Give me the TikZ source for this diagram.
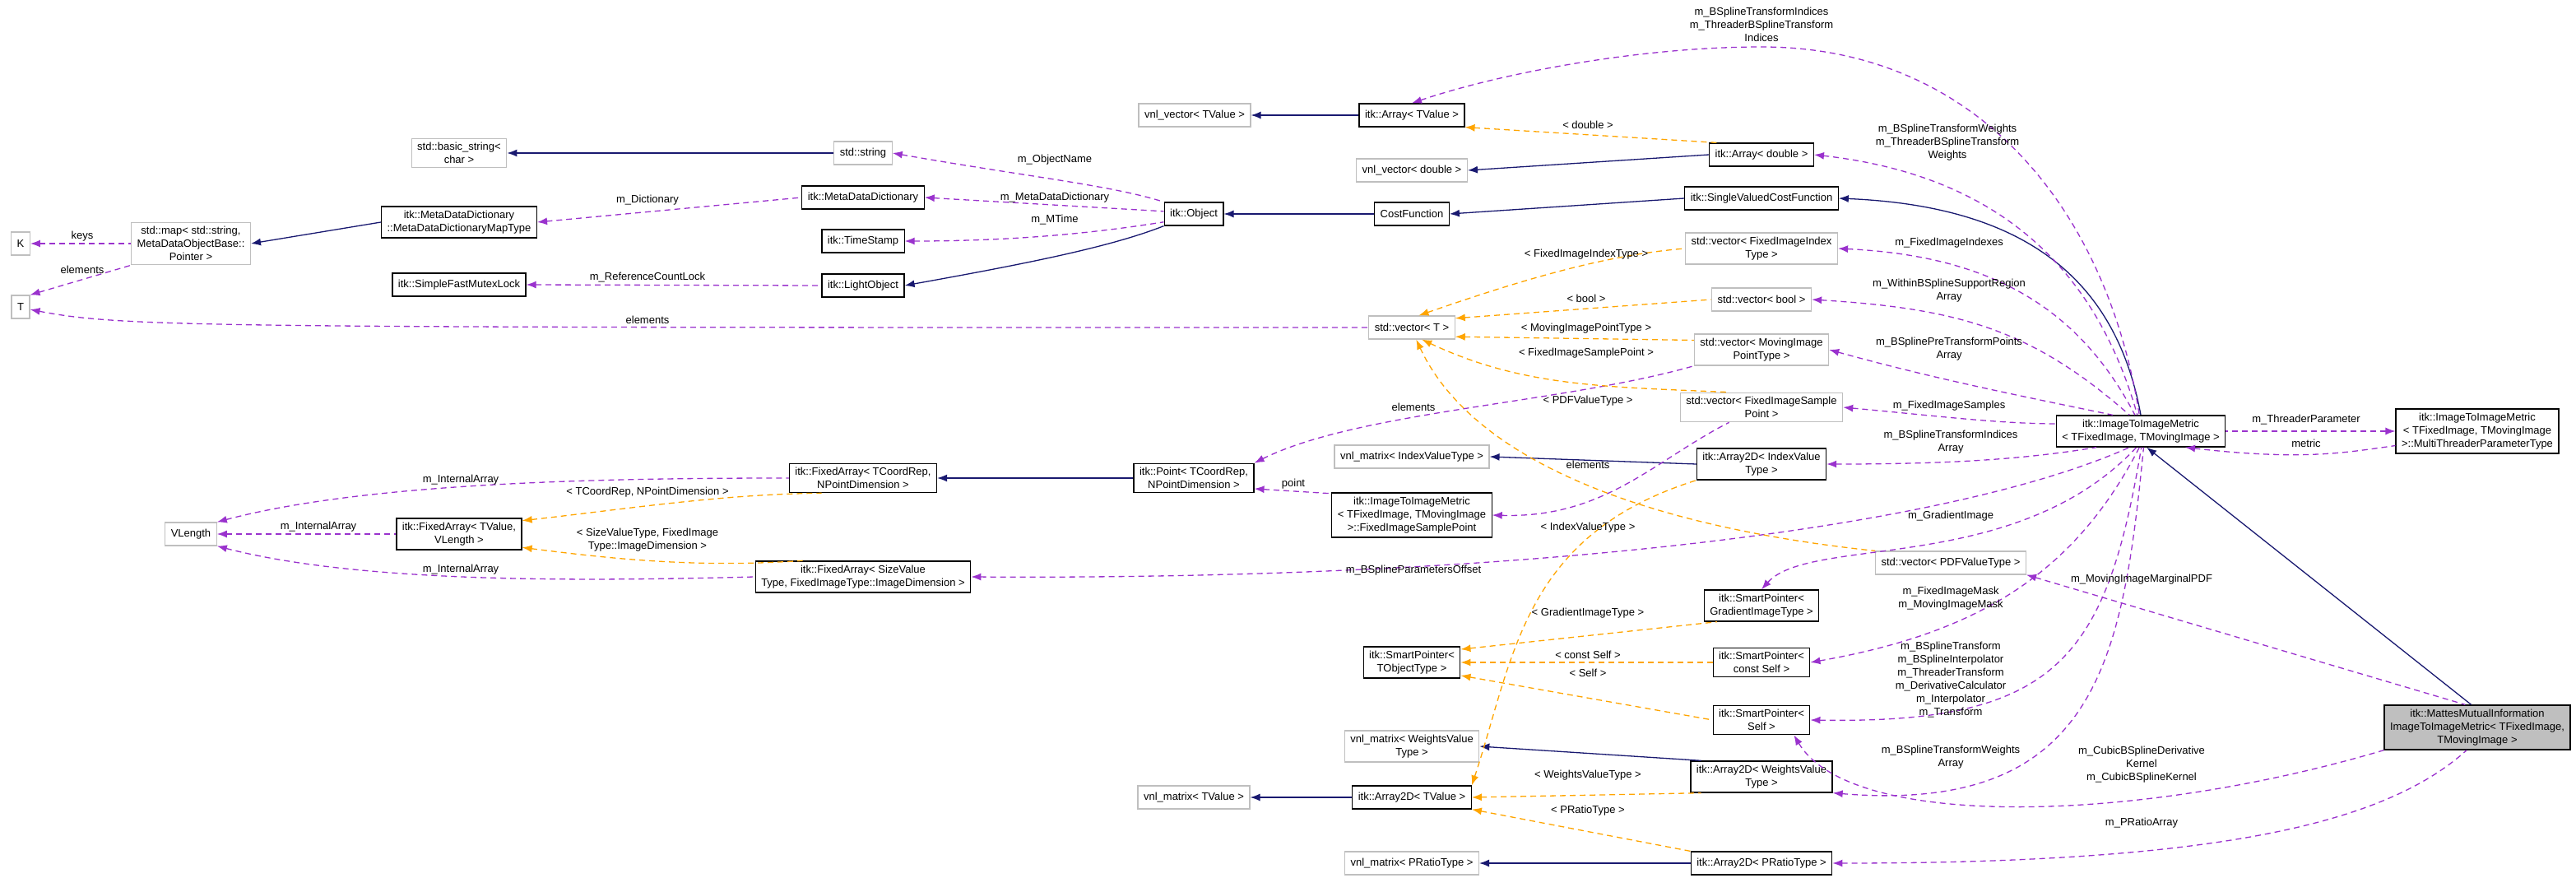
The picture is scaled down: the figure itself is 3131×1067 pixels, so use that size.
\documentclass[tikz,border=0pt]{standalone}
\usepackage{fontspec}
\setmainfont{Liberation Sans}
\usetikzlibrary{arrows.meta}
\definecolor{navy}{HTML}{191970}
\definecolor{purp}{HTML}{9A32CD}
\definecolor{orng}{HTML}{FFA500}
\definecolor{undocgray}{HTML}{BFBFBF}
\begin{document}
\begin{tikzpicture}[x=1pt,y=-1pt,
    every node/.style={font=\fontsize{13}{16}\selectfont},
    doc node/.style={draw=black,line width=1.2pt,align=center,inner xsep=7pt,inner ysep=5pt,minimum height=28pt,fill=white},
    undoc node/.style={doc node,draw=undocgray},
    lbl/.style={inner sep=1pt,align=center},
    inh/.style={draw=navy,line width=1.3pt,{Latex[length=12pt,width=9pt]}-},
    use/.style={draw=purp,line width=1.3pt,dash pattern=on 7pt off 5pt,{Latex[length=12pt,width=9pt]}-},
    tmpl/.style={draw=orng,line width=1.3pt,dash pattern=on 7pt off 5pt,{Latex[length=12pt,width=9pt]}-}]
                \useasboundingbox (0,0) rectangle (3131,1067);
                % left part
                \node[undoc node] at (25,296) (K) {K};
                \node[undoc node] at (25,373) (T) {T};
                \node[undoc node] at (232,296) (smap) {std::map< std::string,\\MetaDataObjectBase::\\Pointer >};
                \node[doc node] at (558,270) (mapType) {itk::MetaDataDictionary\\::MetaDataDictionaryMapType};
                \node[undoc node] at (558,186) (bstring) {std::basic\_string<\\char >};
                \node[doc node] at (558,346) (mutex) {itk::SimpleFastMutexLock};
                \node[undoc node] at (1049,186) (sstring) {std::string};
                \node[doc node] at (1049,240) (mdd) {itk::MetaDataDictionary};
                \node[doc node] at (1049,293) (tstamp) {itk::TimeStamp};
                \node[doc node] at (1049,347) (light) {itk::LightObject};
                \node[doc node] at (1451,260) (object) {itk::Object};
                \node[undoc node] at (232,649) (vlen) {VLength};
                \node[doc node] at (558,649) (faTV) {itk::FixedArray< TValue,\\VLength >};
                \node[doc node] at (1049,581) (faTC) {itk::FixedArray< TCoordRep,\\NPointDimension >};
                \node[doc node] at (1049,701) (faSV) {itk::FixedArray< SizeValue\\Type, FixedImageType::ImageDimension >};
                \node[doc node] at (1451,581) (point) {itk::Point< TCoordRep,\\NPointDimension >};
                \node[undoc node] at (1451,969) (vnlmT) {vnl\_matrix< TValue >};
                % middle part
                \node[undoc node] at (1452,140) (vnlvT) {vnl\_vector< TValue >};
                \node[doc node] at (1716,140) (arrT) {itk::Array< TValue >};
                \node[undoc node] at (1716,207) (vnlvD) {vnl\_vector< double >};
                \node[doc node] at (1716,260) (cost) {CostFunction};
                \node[undoc node] at (1716,398) (vT) {std::vector< T >};
                \node[undoc node] at (1716,555) (vnlmI) {vnl\_matrix< IndexValueType >};
                \node[doc node] at (1716,626) (fisp) {itk::ImageToImageMetric\\< TFixedImage, TMovingImage\\>::FixedImageSamplePoint};
                \node[doc node] at (1716,805) (spT) {itk::SmartPointer<\\TObjectType >};
                \node[undoc node] at (1716,907) (vnlmW) {vnl\_matrix< WeightsValue\\Type >};
                \node[doc node] at (1716,969) (a2dT) {itk::Array2D< TValue >};
                \node[undoc node] at (1716,1049) (vnlmP) {vnl\_matrix< PRatioType >};
                \node[doc node] at (2141,188) (arrD) {itk::Array< double >};
                \node[doc node] at (2141,241) (svcf) {itk::SingleValuedCostFunction};
                \node[undoc node] at (2141,302) (vFII) {std::vector< FixedImageIndex\\Type >};
                \node[undoc node] at (2141,364) (vBool) {std::vector< bool >};
                \node[undoc node] at (2141,425) (vMIP) {std::vector< MovingImage\\PointType >};
                \node[undoc node] at (2141,495) (vFIS) {std::vector< FixedImageSample\\Point >};
                \node[doc node] at (2141,564) (a2dI) {itk::Array2D< IndexValue\\Type >};
                \node[doc node] at (2141,736) (spG) {itk::SmartPointer<\\GradientImageType >};
                \node[doc node] at (2141,805) (spC) {itk::SmartPointer<\\const Self >};
                \node[doc node] at (2141,875) (spS) {itk::SmartPointer<\\Self >};
                \node[doc node] at (2141,944) (a2dW) {itk::Array2D< WeightsValue\\Type >};
                \node[doc node] at (2141,1049) (a2dP) {itk::Array2D< PRatioType >};
                \node[undoc node] at (2371,684) (vPDF) {std::vector< PDFValueType >};
                % right part
                \node[doc node] at (2602,524) (i2im) {itk::ImageToImageMetric\\< TFixedImage, TMovingImage >};
                \node[doc node] at (3011,524) (mtp) {itk::ImageToImageMetric\\< TFixedImage, TMovingImage\\>::MultiThreaderParameterType};
                \node[doc node,fill=undocgray] at (3011,884) (mattes) {itk::MattesMutualInformation\\ImageToImageMetric< TFixedImage,\\TMovingImage >};
                \coordinate (topbend) at (2141,57);

                % inheritance
                \draw[inh] (smap.east) -- (mapType.west);
                \draw[inh] (bstring.east) -- (sstring.west);
                \draw[inh] (vnlvT.east) -- (arrT.west);
                \draw[inh] (vnlvD.east) -- (arrD.west);
                \draw[inh] (object.east) -- (cost.west);
                \draw[inh] (cost.east) -- (svcf.west);
                \draw[inh] (svcf.east) .. controls (2450,250) and (2570,330) .. (i2im.north);
                \draw[inh] (light.east) .. controls (1250,320) and (1350,300) .. (object.south west);
                \draw[inh] (faTC.east) -- (point.west);
                \draw[inh] (vnlmI.east) -- (a2dI.west);
                \draw[inh] (vnlmW.east) -- (a2dW.165);
                \draw[inh] (vnlmT.east) -- (a2dT.west);
                \draw[inh] (vnlmP.east) -- (a2dP.west);
                \draw[inh] (i2im.290) -- (mattes.105);

                % members
                \draw[use] (K.east) -- (smap.west);
                \draw[use] (T.north east) -- (smap.south west);
                \draw[use] (mapType.east) -- (mdd.west);
                \draw[use] (mutex.east) -- (light.west);
                \draw[use] (T.-15) .. controls (150,398) and (250,398) .. (vT.west);
                \draw[use] (sstring.east) .. controls (1250,215) and (1350,225) .. (object.north west);
                \draw[use] (mdd.east) -- (object.175);
                \draw[use] (tstamp.east) .. controls (1250,293) and (1350,280) .. (object.195);
                \draw[use] (arrT.north) .. controls (1820,90) and (1990,57) .. (topbend) .. controls (2400,57) and (2560,250) .. (i2im.95);
                \draw[use] (arrD.east) .. controls (2400,210) and (2540,300) .. (i2im.102);
                \draw[use] (vFII.east) .. controls (2400,310) and (2520,360) .. (i2im.110);
                \draw[use] (vBool.east) .. controls (2380,375) and (2470,400) .. (i2im.125);
                \draw[use] (vMIP.east) .. controls (2350,460) and (2450,480) .. (i2im.150);
                \draw[use] (vFIS.east) .. controls (2350,505) and (2430,515) .. (i2im.175);
                \draw[use] (a2dI.east) .. controls (2350,564) and (2450,560) .. (i2im.200);
                \draw[use] (point.north east) .. controls (1650,500) and (1900,490) .. (vMIP.south west);
                \draw[use] (point.-10) -- (fisp.165);
                \draw[use] (fisp.east) .. controls (1950,630) and (2010,560) .. (vFIS.205);
                \draw[use] (vlen.north east) .. controls (450,585) and (750,581) .. (faTC.west);
                \draw[use] (vlen.east) -- (faTV.west);
                \draw[use] (vlen.south east) .. controls (450,712) and (750,705) .. (faSV.west);
                \draw[use] (faSV.east) .. controls (1800,705) and (2350,650) .. (i2im.235);
                \draw[use] (spG.north) .. controls (2200,650) and (2450,700) .. (i2im.255);
                \draw[use] (spC.east) .. controls (2400,770) and (2520,700) .. (i2im.265);
                \draw[use] (spS.east) .. controls (2500,880) and (2560,800) .. (i2im.272);
                \draw[use] (a2dW.south east) .. controls (2550,990) and (2580,800) .. (i2im.280);
                \draw[use] (mtp.180) -- (i2im.0);
                \draw[use] (i2im.-20) .. controls (2800,560) and (2850,550) .. (mtp.190);
                \draw[use] (vPDF.south east) -- (mattes.118);
                \draw[use] (spS.-25) .. controls (2250,1010) and (2600,1000) .. (mattes.south west);
                \draw[use] (a2dP.east) .. controls (2700,1049) and (2900,1000) .. (mattes.245);

                % template instances
                \draw[tmpl] (arrT.south east) -- (arrD.165);
                \draw[tmpl] (vT.60) .. controls (1850,340) and (1950,310) .. (vFII.west);
                \draw[tmpl] (vT.12) -- (vBool.west);
                \draw[tmpl] (vT.-12) -- (vMIP.172);
                \draw[tmpl] (vT.-50) .. controls (1850,470) and (1950,470) .. (vFIS.155);
                \draw[tmpl] (vT.-70) .. controls (1790,560) and (2000,640) .. (vPDF.north west);
                \draw[tmpl] (faTV.12) .. controls (750,620) and (880,600) .. (faTC.200);
                \draw[tmpl] (faTV.-12) .. controls (750,680) and (850,690) .. (faSV.165);
                \draw[tmpl] (a2dT.north east) .. controls (1840,800) and (1850,650) .. (a2dI.south west);
                \draw[tmpl] (a2dT.east) -- (a2dW.195);
                \draw[tmpl] (a2dT.south east) -- (a2dP.north west);
                \draw[tmpl] (spT.15) -- (spG.200);
                \draw[tmpl] (spT.east) -- (spC.west);
                \draw[tmpl] (spT.-15) -- (spS.west);

                % edge labels
                \node[lbl] at (100,287) (lKeys) {keys};
                \node[lbl] at (100,328) (lElemT) {elements};
                \node[lbl] at (787,243) (lDict) {m\_Dictionary};
                \node[lbl] at (787,337) (lLock) {m\_ReferenceCountLock};
                \node[lbl] at (787,389) (lElemV) {elements};
                \node[lbl] at (1282,194) (lName) {m\_ObjectName};
                \node[lbl] at (1282,240) (lMdd) {m\_MetaDataDictionary};
                \node[lbl] at (1282,267) (lMTime) {m\_MTime};
                \node[lbl] at (560,583) (lIA1) {m\_InternalArray};
                \node[lbl] at (387,640) (lIA2) {m\_InternalArray};
                \node[lbl] at (560,692) (lIA3) {m\_InternalArray};
                \node[lbl] at (787,598) (lTC) {< TCoordRep, NPointDimension >};
                \node[lbl] at (787,656) (lSV) {< SizeValueType, FixedImage\\Type::ImageDimension >};
                \node[lbl] at (1572,588) (lPoint) {point};
                \node[lbl] at (2141,30) (lIdx) {m\_BSplineTransformIndices\\m\_ThreaderBSplineTransform\\Indices};
                \node[lbl] at (1930,152) (lDouble) {< double >};
                \node[lbl] at (1928,309) (lFII) {< FixedImageIndexType >};
                \node[lbl] at (1928,363) (lBool) {< bool >};
                \node[lbl] at (1928,399) (lMIP) {< MovingImagePointType >};
                \node[lbl] at (1928,429) (lFIS) {< FixedImageSamplePoint >};
                \node[lbl] at (1930,487) (lPDF) {< PDFValueType >};
                \node[lbl] at (1718,495) (lElemP) {elements};
                \node[lbl] at (1930,565) (lElemF) {elements};
                \node[lbl] at (1930,641) (lIVT) {< IndexValueType >};
                \node[lbl] at (1718,693) (lOffset) {m\_BSplineParametersOffset};
                \node[lbl] at (1930,745) (lGIT) {< GradientImageType >};
                \node[lbl] at (1930,796) (lCS) {< const Self >};
                \node[lbl] at (1930,818) (lS) {< Self >};
                \node[lbl] at (1930,942) (lWVT) {< WeightsValueType >};
                \node[lbl] at (1930,985) (lPRT) {< PRatioType >};
                \node[lbl] at (2367,173) (lW) {m\_BSplineTransformWeights\\m\_ThreaderBSplineTransform\\Weights};
                \node[lbl] at (2369,295) (lFIIx) {m\_FixedImageIndexes};
                \node[lbl] at (2369,353) (lWithin) {m\_WithinBSplineSupportRegion\\Array};
                \node[lbl] at (2369,424) (lPre) {m\_BSplinePreTransformPoints\\Array};
                \node[lbl] at (2369,493) (lSamples) {m\_FixedImageSamples};
                \node[lbl] at (2371,537) (lIdxArr) {m\_BSplineTransformIndices\\Array};
                \node[lbl] at (2371,627) (lGrad) {m\_GradientImage};
                \node[lbl] at (2371,727) (lMask) {m\_FixedImageMask\\m\_MovingImageMask};
                \node[lbl] at (2371,826) (lTrans) {m\_BSplineTransform\\m\_BSplineInterpolator\\m\_ThreaderTransform\\m\_DerivativeCalculator\\m\_Interpolator\\m\_Transform};
                \node[lbl] at (2371,920) (lWArr) {m\_BSplineTransformWeights\\Array};
                \node[lbl] at (2603,704) (lPDFm) {m\_MovingImageMarginalPDF};
                \node[lbl] at (2603,929) (lCubic) {m\_CubicBSplineDerivative\\Kernel\\m\_CubicBSplineKernel};
                \node[lbl] at (2603,1000) (lPRA) {m\_PRatioArray};
                \node[lbl] at (2803,510) (lThr) {m\_ThreaderParameter};
                \node[lbl] at (2803,539) (lMetric) {metric};
            \end{tikzpicture}
\end{document}
